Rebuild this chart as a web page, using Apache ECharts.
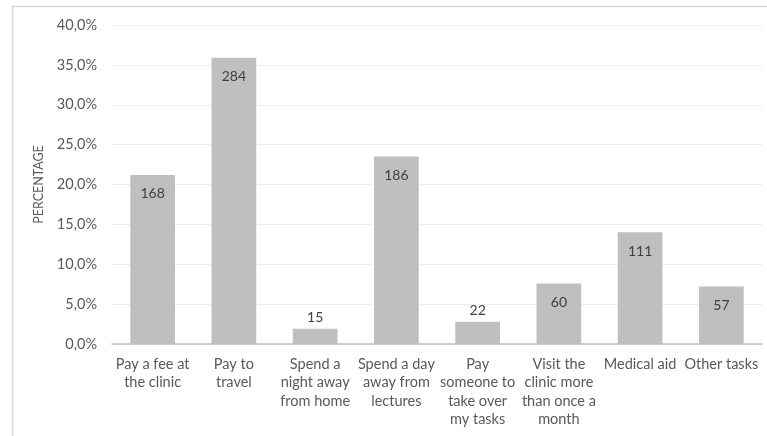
<!DOCTYPE html>
<html>
<head>
<meta charset="utf-8">
<script src="https://cdn.jsdelivr.net/npm/echarts@6/dist/echarts.min.js"></script>
<style>html,body{margin:0;padding:0;background:#fff}#c{width:767px;height:436px}</style>
</head>
<body>
<div id="c"></div>
<script>
const categories = [
  "Pay a fee at\nthe clinic",
  "Pay to\ntravel",
  "Spend a\nnight away\nfrom home",
  "Spend a day\naway from\nlectures",
  "Pay\nsomeone to\ntake over\nmy tasks",
  "Visit the\nclinic more\nthan once a\nmonth",
  "Medical aid",
  "Other tasks"
];
const percentages = [21.2, 35.9, 1.9, 23.5, 2.8, 7.6, 14.0, 7.2];
const counts = [168, 284, 15, 186, 22, 60, 111, 57];
const yTicks = { min: 0, max: 40, interval: 5 };

const font = "Lato, 'Open Sans', sans-serif";
const chart = echarts.init(document.getElementById('c'), null, { renderer: 'canvas' });
chart.setOption({
  animation: false,
  backgroundColor: '#fff',
  graphic: [{
    type: 'rect', shape: { x: 12.5, y: 6.5, width: 800, height: 500 },
    style: { fill: 'none', stroke: '#d9d9d9', lineWidth: 1.5 }, silent: true
  }],
  grid: { left: 112, right: 5, top: 25, bottom: 92 },
  xAxis: {
    type: 'category',
    data: categories,
    axisLine: { lineStyle: { color: '#bfbfbf', width: 1.5 } },
    axisTick: { show: false },
    axisLabel: { interval: 0, color: '#595959', fontFamily: font, fontSize: 14.5, lineHeight: 18.5, margin: 11 }
  },
  yAxis: {
    type: 'value', min: yTicks.min, max: yTicks.max, interval: yTicks.interval,
    name: 'PERCENTAGE', nameLocation: 'middle', nameGap: 63, nameRotate: 90,
    nameTextStyle: { color: '#595959', fontFamily: font, fontSize: 12.5 },
    axisLine: { show: false }, axisTick: { show: false },
    splitLine: { lineStyle: { color: '#ececec', width: 1 } },
    axisLabel: { color: '#595959', fontFamily: font, fontSize: 14.5, margin: 15,
      formatter: v => v.toFixed(1).replace('.', ',') + '%' }
  },
  series: [{
    type: 'bar',
    barWidth: '55%',
    itemStyle: { color: '#bfbfbf' },
    data: percentages.map((v, i) => ({
      value: v,
      label: { position: v < 4 ? 'top' : 'insideTop', distance: v < 4 ? 4 : 12 }
    })),
    label: {
      show: true, color: '#404040', fontFamily: font, fontSize: 14,
      formatter: p => counts[p.dataIndex]
    }
  }]
});
</script>
</body>
</html>
